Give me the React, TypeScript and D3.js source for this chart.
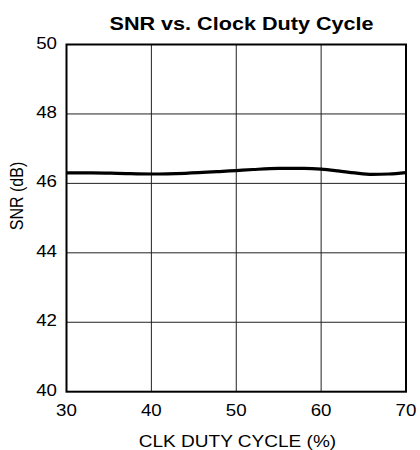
import React from "react";
import * as d3 from "d3";

const dutyCycle = [30, 33, 36, 40, 44, 48, 50, 52, 55, 58, 60, 62, 64, 66, 68, 70];
const snr = [46.3, 46.3, 46.29, 46.27, 46.29, 46.34, 46.37, 46.4, 46.43, 46.43, 46.41, 46.36, 46.3, 46.26, 46.27, 46.31];
const xTicks = [30, 40, 50, 60, 70];
const yTicks = [40, 42, 44, 46, 48, 50];

const title = "SNR vs. Clock Duty Cycle";
const xTitle = "CLK DUTY CYCLE (%)";
const yTitle = "SNR (dB)";

export default function App() {
  const W = 420, H = 450;
  const left = 66.5, right = 406, top = 44.5, bottom = 391.7;
  const x = d3.scaleLinear().domain([30, 70]).range([left, right]);
  const y = d3.scaleLinear().domain([40, 50]).range([bottom, top]);
  const pts: [number, number][] = dutyCycle.map((d, i) => [d, snr[i]]);
  const line = d3
    .line<[number, number]>()
    .x((d) => x(d[0]))
    .y((d) => y(d[1]))
    .curve(d3.curveMonotoneX);
  const font = "Arial, 'Liberation Sans', Helvetica, sans-serif";
  const sx = 1.17;
  return (
    <svg
      width={W}
      height={H}
      style={{ position: "absolute", left: 0, top: 0, background: "#fff" }}
      fontFamily={font}
    >
      <rect x={0} y={0} width={W} height={H} fill="#fff" />
      <text transform={`translate(241.5,30) scale(1.2,1)`} textAnchor="middle" fontWeight="bold" fontSize={18} fill="#000">
        {title}
      </text>
      {xTicks.slice(1, -1).map((t) => (
        <line key={"gx" + t} x1={x(t)} x2={x(t)} y1={top} y2={bottom} stroke="#222" strokeWidth={1} />
      ))}
      {yTicks.slice(1, -1).map((t) => (
        <line key={"gy" + t} x1={left} x2={right} y1={y(t)} y2={y(t)} stroke="#222" strokeWidth={1} />
      ))}
      <rect x={left} y={top} width={right - left} height={bottom - top} fill="none" stroke="#000" strokeWidth={2} />
      <path d={line(pts) || ""} fill="none" stroke="#000" strokeWidth={3.2} />
      {yTicks.map((t) => (
        <text key={"ly" + t} transform={`translate(57,${y(t) + 4}) scale(${sx},1)`} textAnchor="end" fontSize={16} fill="#000">
          {t}
        </text>
      ))}
      {xTicks.map((t) => (
        <text key={"lx" + t} transform={`translate(${x(t)},416) scale(${sx},1)`} textAnchor="middle" fontSize={16} fill="#000">
          {t}
        </text>
      ))}
      <text transform={`translate(237.5,447) scale(1.19,1)`} textAnchor="middle" fontSize={16} fill="#000">
        {xTitle}
      </text>
      <text
        transform={`translate(23,196) scale(1.2,1) rotate(-90)`}
        textAnchor="middle"
        fontSize={16}
        fill="#000"
      >
        {yTitle}
      </text>
    </svg>
  );
}
